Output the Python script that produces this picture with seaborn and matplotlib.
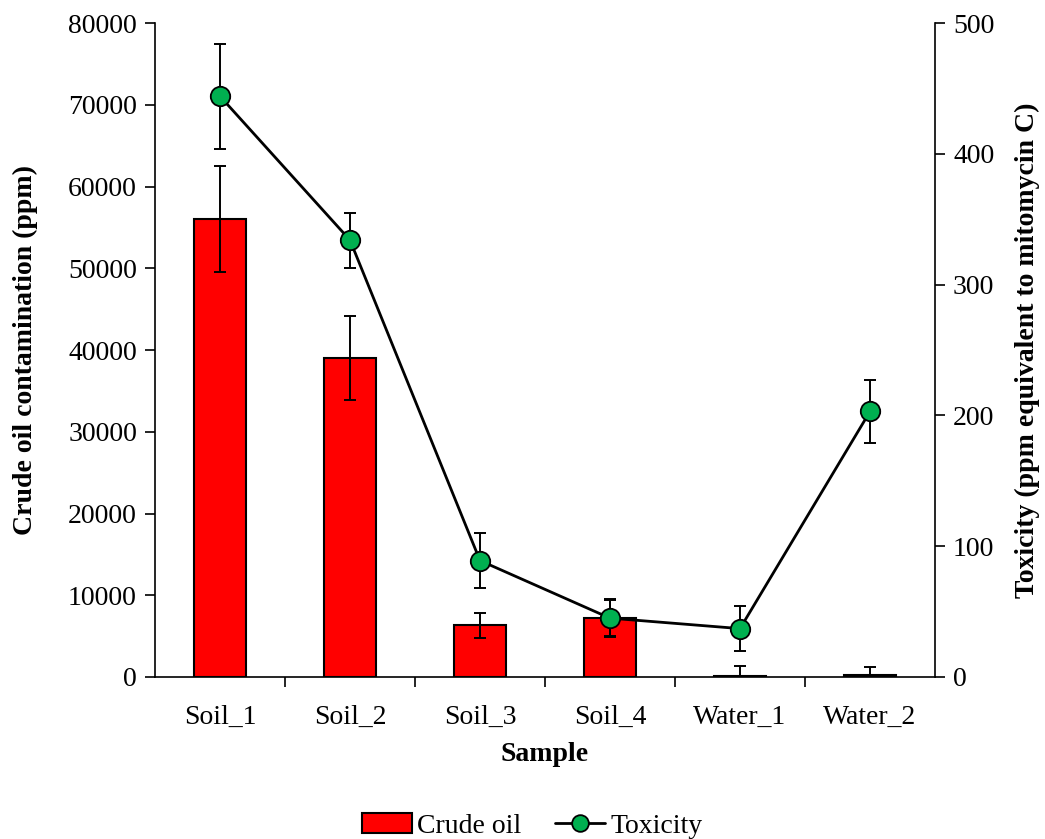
import matplotlib
matplotlib.use("Agg")
import matplotlib.pyplot as plt
import seaborn as sns
import numpy as np
import pandas as pd
from matplotlib.patches import Patch
from matplotlib.lines import Line2D

samples = ["Soil_1", "Soil_2", "Soil_3", "Soil_4", "Water_1", "Water_2"]
crude_oil = [56000, 39000, 6300, 7200, 100, 300]
crude_err = [6500, 5100, 1500, 2300, 1200, 900]
toxicity = [444, 334, 89, 45, 37, 203]
tox_err = [40, 21, 21, 14, 17, 24]

sns.set_theme(style="white")
plt.rcParams['font.family'] = ['Liberation Serif', 'DejaVu Serif']
plt.rcParams['font.size'] = 20
for k in ["text.color", "axes.labelcolor", "xtick.color", "ytick.color"]:
    plt.rcParams[k] = "black"

FS = 20

fig = plt.figure(figsize=(10.45, 8.39), dpi=100)
ax = fig.add_axes([155/1045, 1-677/839, 780/1045, 654/839])

df = pd.DataFrame({"Sample": samples, "Crude": crude_oil})
sns.barplot(data=df, x="Sample", y="Crude", color="#FF0000", edgecolor="black",
            linewidth=1.5, width=0.4, saturation=1, ax=ax)
xpos = np.arange(len(samples))
ax.errorbar(xpos, crude_oil, yerr=crude_err, fmt="none", ecolor="black",
            elinewidth=1.4, capsize=4.3, capthick=1.4, zorder=3)

ax.set_xlim(-0.5, 5.5)
ax.set_ylim(0, 80000)
ax.set_yticks(np.arange(0, 80001, 10000))
ax.set_xticks(xpos)
ax.set_xticklabels(samples, fontsize=FS)
ax.tick_params(axis="x", length=0, pad=20)
ax.set_xticks(np.arange(0.5, 5.5, 1), minor=True)
ax.tick_params(axis="x", which="minor", length=7, width=1.2, direction="out", color="black", bottom=True)
ax.tick_params(axis="y", length=7, width=1.2, direction="out", color="black", left=True, labelsize=FS, pad=6)
ax.set_xlabel("Sample", fontsize=FS, fontweight="bold", labelpad=9)
ax.set_ylabel("Crude oil contamination (ppm)", fontsize=FS, fontweight="bold", labelpad=22)
for s in ["left", "bottom"]:
    ax.spines[s].set_color("black")
    ax.spines[s].set_linewidth(1.2)
ax.spines["top"].set_visible(False)
ax.spines["right"].set_visible(False)

ax2 = ax.twinx()
sns.lineplot(x=xpos, y=toxicity, color="black", linewidth=2.0, ax=ax2,
             marker="o", markersize=14, markerfacecolor="#00B050",
             markeredgecolor="black", markeredgewidth=1.3, zorder=4)
ax2.errorbar(xpos, toxicity, yerr=tox_err, fmt="none", ecolor="black",
             elinewidth=1.4, capsize=4.3, capthick=1.4, zorder=3)
ax2.set_ylim(0, 500)
ax2.set_yticks(np.arange(0, 501, 100))
ax2.tick_params(axis="y", length=7, width=1.2, direction="out", color="black", right=True, labelsize=FS, pad=6)
ax2.set_ylabel("Toxicity (ppm equivalent to mitomycin C)", fontsize=FS, fontweight="bold", labelpad=15)
ax2.spines["right"].set_color("black")
ax2.spines["right"].set_linewidth(1.2)
ax2.spines["top"].set_visible(False)
ax2.spines["left"].set_visible(False)
ax2.spines["bottom"].set_visible(False)
ax2.set_xlim(-0.5, 5.5)

handles = [Patch(facecolor="#FF0000", edgecolor="black", linewidth=1.5),
           Line2D([0], [0], color="black", linewidth=2.0, marker="o", markersize=12,
                  markerfacecolor="#00B050", markeredgecolor="black", markeredgewidth=1.3)]
fig.legend(handles, ["Crude oil", "Toxicity"], loc="center", bbox_to_anchor=(532/1045, 1-826/839),
           ncol=2, frameon=False, fontsize=FS, handlelength=1.8, columnspacing=1.2, handletextpad=0.2)

fig.savefig("out.png", dpi=100)
